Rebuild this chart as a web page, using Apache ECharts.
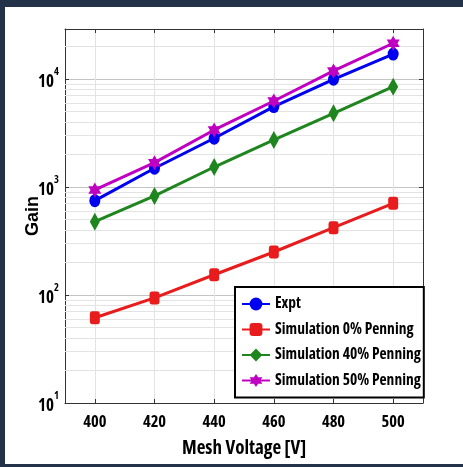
<!DOCTYPE html>
<html>
<head>
<meta charset="utf-8">
<script src="https://cdn.jsdelivr.net/npm/echarts@6/dist/echarts.min.js"></script>
<style>
  html, body { margin: 0; padding: 0; background: #243249; width: 463px; height: 467px; overflow: hidden; }
  #chart { position: absolute; left: 5px; top: 7px; width: 458px; height: 457px; background: #fff; }
</style>
</head>
<body>
<div id="chart"></div>
<script>
// mesh voltage [V]
const voltage = [400, 420, 440, 460, 480, 500];
// gain per series
const expt = [747, 1490, 2825, 5545, 9930, 17000];
const sim0 = [61.6, 94, 154, 250, 420, 706];
const sim40 = [477, 826, 1530, 2725, 4810, 8490];
const sim50 = [938, 1680, 3370, 6250, 11860, 21400];
// minor log grid lines
const minorGrid = [20, 30, 40, 50, 60, 70, 80, 90,
  200, 300, 400, 500, 600, 700, 800, 900,
  2000, 3000, 4000, 5000, 6000, 7000, 8000, 9000, 20000];

// condensed bold face, close to Arial Narrow Bold
const narrow = "'Open Sans', sans-serif";
const star = 'path://M0,-10 L2.9,-5 L8.7,-5 L5.8,0 L8.7,5 L2.9,5 L0,10 L-2.9,5 L-8.7,5 L-5.8,0 L-8.7,-5 L-2.9,-5 Z';

function txt(size) {
  return { fontFamily: narrow, fontStyle: 'condensed', fontWeight: 'bold', fontSize: size, color: '#000' };
}

function pts(arr) {
  return voltage.map((v, i) => [v, arr[i]]);
}

function mk(name, arr, color, symbol, size) {
  return {
    name: name,
    type: 'line',
    data: pts(arr),
    symbol: symbol,
    symbolSize: size,
    lineStyle: { color: color, width: 3 },
    itemStyle: { color: color },
    z: 3
  };
}

const chart = echarts.init(document.getElementById('chart'));

chart.setOption({
  animation: false,
  backgroundColor: '#fff',
  grid: { left: 60, top: 22, right: 40, bottom: 61, outerBoundsMode: 'none' },
  legend: {
    data: ['Expt', 'Simulation 0% Penning', 'Simulation 40% Penning', 'Simulation 50% Penning'],
    orient: 'vertical',
    left: 230,
    top: 280,
    itemWidth: 28,
    itemHeight: 16,
    itemGap: 9.5,
    padding: [9, 3, 9, 6],
    borderColor: '#000',
    borderWidth: 2,
    backgroundColor: '#fff',
    textStyle: Object.assign(txt(15.5), { lineHeight: 16 })
  },
  xAxis: [{
    type: 'value',
    min: 390,
    max: 510,
    splitNumber: 6,
    name: 'Mesh Voltage [V]',
    nameLocation: 'middle',
    nameGap: 36,
    nameMoveOverlap: false,
    nameTextStyle: txt(19),
    axisLine: { lineStyle: { color: '#333', width: 1 } },
    axisTick: { inside: true, length: 4, lineStyle: { color: '#333' } },
    axisLabel: Object.assign(txt(16.5), {
      margin: 11,
      formatter: v => (v >= 400 && v <= 500 && v % 20 === 0) ? String(v) : ''
    }),
    splitLine: { show: true, lineStyle: { color: '#e3e3e3', width: 1 } }
  }, {
    type: 'value',
    position: 'top',
    min: 390,
    max: 510,
    splitNumber: 6,
    axisLine: { show: true, lineStyle: { color: '#333', width: 1 } },
    axisTick: { inside: true, length: 4, lineStyle: { color: '#333' } },
    axisLabel: { show: false },
    splitLine: { show: false }
  }],
  yAxis: [{
    type: 'log',
    logBase: 10,
    min: 10,
    max: 29000,
    name: 'Gain',
    nameLocation: 'middle',
    nameGap: 23,
    nameMoveOverlap: false,
    nameTextStyle: { fontFamily: "'Liberation Sans', Arial, sans-serif", fontWeight: 'bold', fontSize: 18, color: '#000' },
    axisLine: { show: true, lineStyle: { color: '#333', width: 1 } },
    axisTick: { inside: true, length: 4, lineStyle: { color: '#333' } },
    axisLabel: {
      margin: 6,
      formatter: function (v) {
        const e = Math.log10(v);
        if (Math.abs(e - Math.round(e)) > 1e-6) return '';
        return '{b|10}{s|' + Math.round(e) + '}';
      },
      rich: {
        b: Object.assign(txt(17), { lineHeight: 24, verticalAlign: 'bottom' }),
        s: Object.assign(txt(10.5), { lineHeight: 17, verticalAlign: 'top' })
      }
    },
    splitLine: { show: true, lineStyle: { color: '#c4c4c4', width: 1 } }
  }, {
    type: 'log',
    logBase: 10,
    min: 10,
    max: 29000,
    position: 'right',
    axisLine: { show: true, lineStyle: { color: '#333', width: 1 } },
    axisTick: { inside: true, length: 4, lineStyle: { color: '#333' } },
    axisLabel: { show: false },
    splitLine: { show: false }
  }],
  series: [
    {
      type: 'line',
      data: [],
      z: 1,
      silent: true,
      markLine: {
        z: 1,
        silent: true,
        symbol: 'none',
        label: { show: false },
        lineStyle: { color: '#e3e3e3', width: 1, type: 'solid' },
        emphasis: { disabled: true },
        data: minorGrid.map(v => ({ yAxis: v }))
      }
    },
    mk('Expt', expt, '#0000f0', 'circle', [11, 13]),
    mk('Simulation 0% Penning', sim0, '#e81c1c', 'roundRect', [10, 13]),
    mk('Simulation 40% Penning', sim40, '#1f861f', 'diamond', [10, 18]),
    mk('Simulation 50% Penning', sim50, '#c000c0', star, [13, 15])
  ]
});
</script>
</body>
</html>
